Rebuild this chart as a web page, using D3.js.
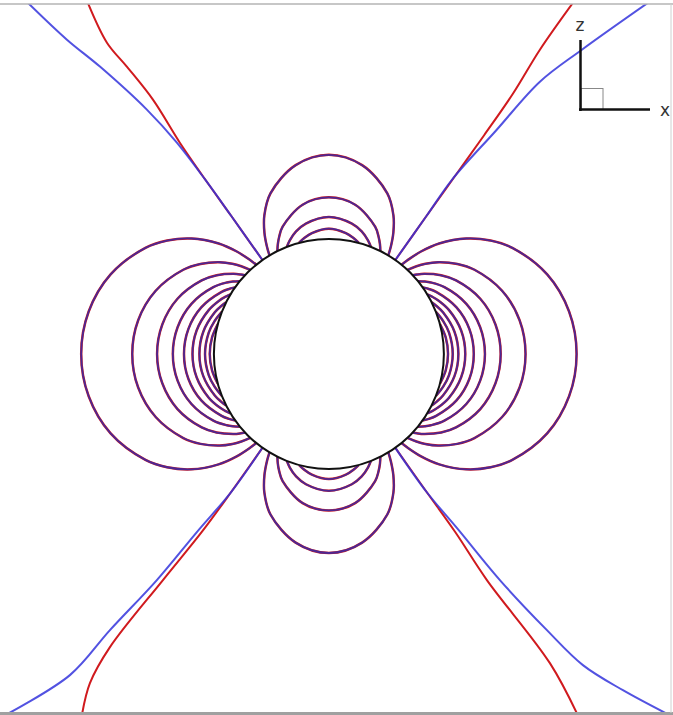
<!DOCTYPE html>
<html><head><meta charset="utf-8">
<script src="https://cdn.jsdelivr.net/npm/d3@7"></script>
<style>html,body{margin:0;padding:0;background:#fff;}svg{display:block;}</style>
</head><body>
<svg id="chart" width="673" height="715"></svg>
<script>
// ---- data (lengths in sphere radii, angles in degrees) ----
// contour levels of the side lobes (along x)
const sideLevels = [0.2, 0.4, 0.6, 0.8, 1.0, 1.2, 1.4, 1.6, 1.8];
// half contours: [angle from x axis, radius]; mirrored about the axis
const sideContours = [
  [[0,2.154],[10,2.121],[20,2.020],[30,1.842],[35,1.717],[40,1.560],[45,1.357],[48,1.197],[50,1.062],[50.8,1.0]],
  [[0,1.710],[10,1.684],[20,1.603],[30,1.462],[35,1.363],[40,1.239],[43,1.148],[45,1.077],[46.9,1.0]],
  [[0,1.494],[10,1.471],[20,1.401],[30,1.277],[35,1.191],[40,1.082],[42,1.031],[43.1,1.0]],
  [[0,1.357],[10,1.336],[20,1.272],[30,1.160],[35,1.082],[37,1.045],[39.2,1.0]],
  [[0,1.260],[10,1.241],[20,1.181],[30,1.077],[33,1.036],[35.3,1.0]],
  [[0,1.186],[10,1.168],[20,1.112],[26,1.059],[29,1.026],[31.1,1.0]],
  [[0,1.126],[10,1.109],[20,1.056],[24,1.024],[26.6,1.0]],
  [[0,1.077],[10,1.061],[16,1.034],[21.4,1.0]],
  [[0,1.036],[8,1.026],[15,1.0]]
];
// contour levels of the polar lobes (along z)
const polarLevels = [-0.2, -0.4, -0.6, -0.8];
// half contours: [angle from z axis, radius]; mirrored about the axis
const polarContours = [
  [[0,1.730],[10,1.665],[20,1.485],[25,1.328],[28,1.194],[30,1.078],[31.1,1.0]],
  [[0,1.360],[10,1.316],[20,1.176],[23,1.106],[25,1.051],[26.6,1.0]],
  [[0,1.190],[10,1.150],[15,1.102],[19,1.044],[21.4,1.0]],
  [[0,1.088],[8,1.060],[12,1.029],[15,1.0]]
];
// zero-level contours [x, z]: upper-left, upper-right, lower-left, lower-right
const zeroRed = [
  [[-0.578,0.816],[-0.85,1.20],[-1.10,1.55],[-1.296,1.835],[-1.53,2.209],[-1.757,2.496],[-1.93,2.704],[-2.096,3.05]],
  [[0.578,0.816],[0.85,1.20],[1.10,1.55],[1.35,1.90],[1.60,2.26],[1.835,2.643],[2.122,3.05]],
  [[-0.578,-0.816],[-0.85,-1.20],[-1.10,-1.54],[-1.443,-1.965],[-1.904,-2.548],[-2.078,-2.861],[-2.148,-3.14]],
  [[0.578,-0.816],[0.85,-1.20],[1.10,-1.55],[1.374,-1.965],[1.922,-2.687],[2.165,-3.14]]
];
const zeroBlue = [
  [[-0.578,0.816],[-0.85,1.20],[-1.08,1.52],[-1.322,1.835],[-1.583,2.122],[-1.991,2.496],[-2.278,2.730],[-2.617,3.05]],
  [[0.578,0.816],[0.85,1.20],[1.07,1.513],[1.452,1.939],[1.835,2.365],[2.2,2.643],[2.774,3.05]],
  [[-0.578,-0.816],[-0.85,-1.20],[-1.15,-1.55],[-1.496,-1.965],[-1.904,-2.4],[-2.252,-2.791],[-2.817,-3.14]],
  [[0.578,-0.816],[0.85,-1.20],[1.12,-1.52],[1.487,-1.965],[1.896,-2.4],[2.209,-2.704],[2.557,-2.922],[2.965,-3.14]]
];
const axisLabels = ["z", "x"];

// ---- drawing ----
const svg = d3.select("#chart");
const x = d3.scaleLinear().domain([-2.86, 2.975]).range([0, 671]);
const y = d3.scaleLinear().domain([3.04, -3.12]).range([4, 713]);

svg.append("defs").append("clipPath").attr("id","clip")
  .append("rect").attr("x",0).attr("y",4).attr("width",671).attr("height",709);

const line = d3.line().x(d => x(d[0])).y(d => y(d[1])).curve(d3.curveCatmullRom.alpha(0.5));
const rad = Math.PI / 180;

function sidePts(half, s) {
  const pts = [];
  for (let i = half.length - 1; i >= 0; i--) pts.push([s * half[i][1] * Math.cos(half[i][0]*rad), -half[i][1] * Math.sin(half[i][0]*rad)]);
  for (let i = 1; i < half.length; i++) pts.push([s * half[i][1] * Math.cos(half[i][0]*rad), half[i][1] * Math.sin(half[i][0]*rad)]);
  return pts;
}
function polarPts(half, s) {
  const pts = [];
  for (let i = half.length - 1; i >= 0; i--) pts.push([-half[i][1] * Math.sin(half[i][0]*rad), s * half[i][1] * Math.cos(half[i][0]*rad)]);
  for (let i = 1; i < half.length; i++) pts.push([half[i][1] * Math.sin(half[i][0]*rad), s * half[i][1] * Math.cos(half[i][0]*rad)]);
  return pts;
}

const lobes = [];
sideContours.forEach(c => { lobes.push(sidePts(c, 1)); lobes.push(sidePts(c, -1)); });
polarContours.forEach(c => { lobes.push(polarPts(c, 1)); lobes.push(polarPts(c, -1)); });

const g = svg.append("g").attr("clip-path", "url(#clip)");
const RED = "#d01a1e", BLUE = "#3434dc";

g.selectAll("path.zr").data(zeroRed).join("path").attr("class","zr")
  .attr("d", line).attr("fill","none").attr("stroke", RED).attr("stroke-width", 2);
g.selectAll("path.zb").data(zeroBlue).join("path").attr("class","zb")
  .attr("d", line).attr("fill","none").attr("stroke", BLUE).attr("stroke-width", 2).attr("stroke-opacity", 0.85);

g.selectAll("path.lr").data(lobes).join("path").attr("class","lr")
  .attr("d", line).attr("fill","none").attr("stroke", RED).attr("stroke-width", 2.5);
g.selectAll("path.lb").data(lobes).join("path").attr("class","lb")
  .attr("d", line).attr("fill","none").attr("stroke", "#2a2ab0").attr("stroke-width", 1.8).attr("stroke-opacity", 0.8);

// sphere
g.append("circle").attr("cx", x(0)).attr("cy", y(0)).attr("r", x(1) - x(0))
  .attr("fill", "#fff").attr("stroke", "#111").attr("stroke-width", 2);

// frame
svg.append("line").attr("x1",0).attr("x2",673).attr("y1",4).attr("y2",4).attr("stroke","#b4b4b4").attr("stroke-width",1.5);
svg.append("line").attr("x1",0).attr("x2",673).attr("y1",713.5).attr("y2",713.5).attr("stroke","#a0a0a0").attr("stroke-width",3);
svg.append("line").attr("x1",671).attr("x2",671).attr("y1",4).attr("y2",713).attr("stroke","#d0d0d0").attr("stroke-width",1);

// orientation glyph
const ax = svg.append("g");
ax.append("rect").attr("x",581).attr("y",88.5).attr("width",22).attr("height",21).attr("fill","none").attr("stroke","#888").attr("stroke-width",1);
ax.append("line").attr("x1",580.5).attr("x2",580.5).attr("y1",40).attr("y2",111).attr("stroke","#111").attr("stroke-width",2.5);
ax.append("line").attr("x1",579).attr("x2",650).attr("y1",109.5).attr("y2",109.5).attr("stroke","#111").attr("stroke-width",2.5);
ax.append("text").attr("x",580).attr("y",31).attr("text-anchor","middle").attr("font-family","DejaVu Sans, sans-serif").attr("font-size",17).attr("fill","#333").text(axisLabels[0]);
ax.append("text").attr("x",660).attr("y",116).attr("font-family","DejaVu Sans, sans-serif").attr("font-size",17).attr("fill","#333").text(axisLabels[1]);
</script>
</body></html>
